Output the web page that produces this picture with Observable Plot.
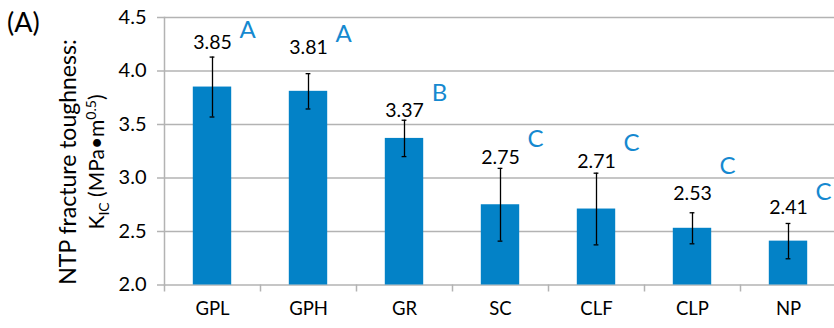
<!DOCTYPE html>
<html>
<head>
<meta charset="utf-8">
<script src="https://cdn.jsdelivr.net/npm/d3@7"></script>
<script src="https://cdn.jsdelivr.net/npm/@observablehq/plot@0.6"></script>
<style>
  html, body { margin: 0; padding: 0; background: #fff; }
  #chart { width: 834px; height: 328px; overflow: hidden; }
</style>
</head>
<body>
<div id="chart"></div>
<script>
const categories = ["GPL", "GPH", "GR", "SC", "CLF", "CLP", "NP"];
const means = [3.85, 3.81, 3.37, 2.75, 2.71, 2.53, 2.41];
const errors = [0.28, 0.165, 0.17, 0.34, 0.335, 0.145, 0.165];
const groups = ["A", "A", "B", "C", "C", "C", "C"];
// annotation anchors (data units)
const labelHeights = [4.26, 4.22, 3.63, 3.19, 3.15, 2.85, 2.72];
const letterHeights = [4.38, 4.34, 3.79, 3.36, 3.325, 3.11, 2.87];
const yTicks = [2.0, 2.5, 3.0, 3.5, 4.0, 4.5];

const data = categories.map((c, i) => ({
  i, cat: c, mean: means[i], err: errors[i], group: groups[i],
  labelY: labelHeights[i], letterY: letterHeights[i]
}));

const gridColor = "#b3b3b3";
const barColor = "#0382C7";
const letterColor = "#1589D0";
const font = "Lato, 'Liberation Sans', sans-serif";

const svg = Plot.plot({
  width: 834,
  height: 328,
  marginTop: 17,
  marginBottom: 43.5,
  marginLeft: 164,
  marginRight: 0,
  style: {fontFamily: font, background: "white", color: "#000"},
  x: {type: "linear", domain: [-0.5, 6.5], range: [164, 836], axis: null},
  y: {domain: [2, 4.5], axis: null},
  marks: [
    Plot.ruleY(yTicks, {stroke: gridColor, strokeWidth: 1.5}),
    Plot.frame({anchor: "left", stroke: gridColor, strokeWidth: 1.5}),
    Plot.axisY({ticks: yTicks, tickSize: 7, tickPadding: 11, tickFormat: d3.format(".1f"),
      label: null, fontSize: 20, stroke: gridColor, strokeWidth: 1.5, fill: "#000"}),
    Plot.axisX({ticks: d3.range(8).map(k => k - 0.5), tickSize: 7, tickFormat: () => "",
      label: null, stroke: gridColor, strokeWidth: 1.5}),
    Plot.axisX({ticks: d3.range(7), tickSize: 0, tickPadding: 17, tickFormat: k => categories[k],
      label: null, fontSize: 18.5, fill: "#000"}),
    Plot.rectY(data, {x1: d => d.i - 0.2, x2: d => d.i + 0.2, y1: 2, y2: "mean", fill: barColor}),
    Plot.ruleX(data, {x: "i", y1: d => d.mean - d.err, y2: d => d.mean + d.err, stroke: "#000", strokeWidth: 1.3}),
    Plot.ruleY(data, {y: d => d.mean + d.err, x1: d => d.i - 0.025, x2: d => d.i + 0.025, stroke: "#000", strokeWidth: 1.3}),
    Plot.ruleY(data, {y: d => d.mean - d.err, x1: d => d.i - 0.025, x2: d => d.i + 0.025, stroke: "#000", strokeWidth: 1.3}),
    Plot.text(data, {x: "i", y: "labelY", text: d => d.mean.toFixed(2), fontSize: 19.5, fill: "#000"}),
    Plot.text(data, {x: "i", y: "letterY", text: "group", dx: 35, fontSize: 24, fill: letterColor})
  ]
});

const s = d3.select(svg);
s.append("text")
  .attr("x", 7).attr("y", 32).attr("text-anchor", "start")
  .style("font-family", font).style("font-size", "27px").attr("fill", "#000")
  .text("(A)");

s.append("text")
  .attr("transform", "translate(68,162) rotate(-90)")
  .attr("text-anchor", "middle").attr("dy", "0.35em")
  .style("font-family", font).style("font-size", "23px").attr("fill", "#000")
  .text("NTP fracture toughness:");

const t2 = s.append("text")
  .attr("transform", "translate(97,162) rotate(-90)")
  .attr("text-anchor", "middle").attr("dy", "0.35em")
  .style("font-family", font).style("font-size", "21px").attr("fill", "#000");
t2.append("tspan").text("K");
t2.append("tspan").attr("dy", 5).style("font-size", "14px").text("IC");
t2.append("tspan").attr("dy", -5).text(" (MPa\u2022m");
t2.append("tspan").attr("dy", -8).style("font-size", "14px").text("0.5");
t2.append("tspan").attr("dy", 8).text(")");

document.getElementById("chart").appendChild(svg);
</script>
</body>
</html>
